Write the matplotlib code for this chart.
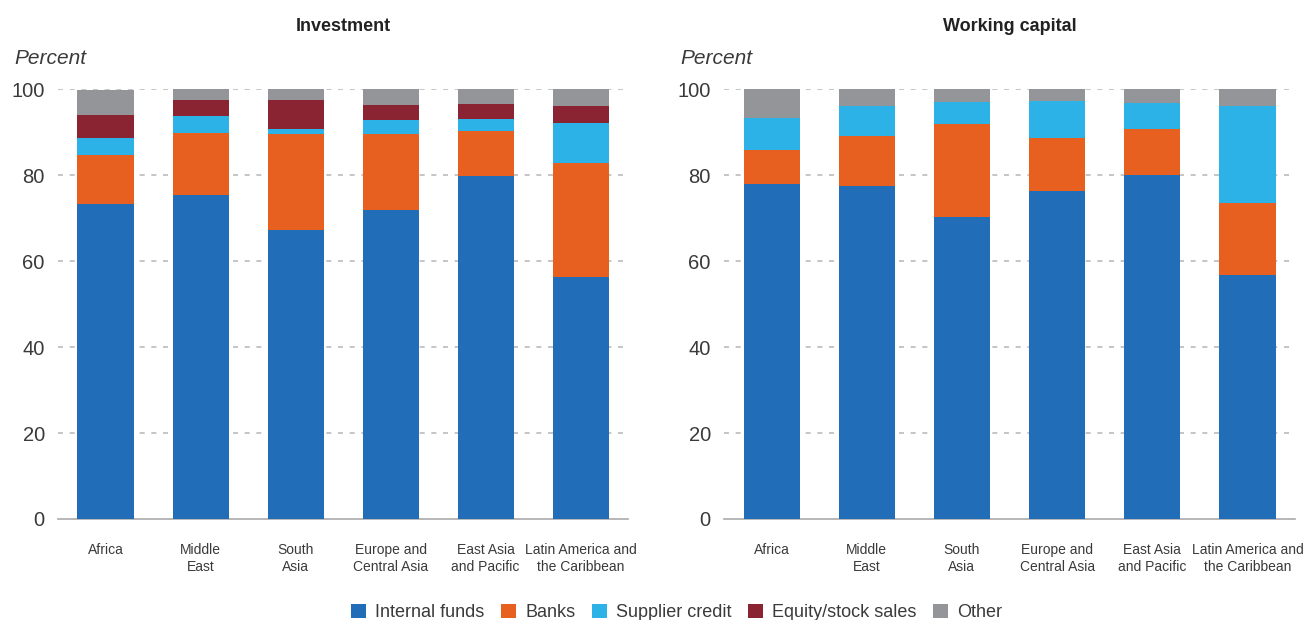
import matplotlib.pyplot as plt
import numpy as np

# Regions (x tick labels)
regions = ["Africa", "Middle\nEast", "South\nAsia", "Europe and\nCentral Asia",
           "East Asia\nand Pacific", "Latin America and\nthe Caribbean"]

# Investment financing shares (percent)
inv_internal = [73.3, 75.3, 67.2, 71.9, 79.8, 56.3]
inv_banks = [11.3, 14.5, 22.3, 17.7, 10.4, 26.5]
inv_supplier = [4.0, 3.9, 1.2, 3.2, 2.8, 9.3]
inv_equity = [5.3, 3.7, 6.7, 3.5, 3.5, 3.9]
inv_other = [6.0, 2.6, 2.6, 3.7, 3.5, 4.0]

# Working capital financing shares (percent)
wc_internal = [77.9, 77.6, 70.2, 76.3, 80.0, 56.7]
wc_banks = [7.9, 11.5, 21.8, 12.4, 10.7, 16.8]
wc_supplier = [7.5, 7.1, 5.0, 8.5, 6.0, 22.6]
wc_other = [6.7, 3.8, 3.0, 2.8, 3.3, 3.9]

series_names = ["Internal funds", "Banks", "Supplier credit", "Equity/stock sales", "Other"]
colors = ["#216db7", "#e8601f", "#2db2e8", "#8a2433", "#939598"]

plt.rcParams["font.family"] = ["Liberation Sans", "DejaVu Sans"]
txt = "#3a3a3a"

fig = plt.figure(figsize=(13.06, 6.2), dpi=100)
ax1 = fig.add_axes([0.0444, 0.163, 0.4366, 0.693])
ax2 = fig.add_axes([0.5544, 0.163, 0.4372, 0.693])

panels = [
    (ax1, "Investment", [inv_internal, inv_banks, inv_supplier, inv_equity, inv_other]),
    (ax2, "Working capital", [wc_internal, wc_banks, wc_supplier, [0] * 6, wc_other]),
]

x = np.arange(len(regions))
for ax, title, data in panels:
    bottom = np.zeros(len(regions))
    for vals, c, name in zip(data, colors, series_names):
        ax.bar(x, vals, bottom=bottom, width=0.59, color=c, label=name, zorder=3)
        bottom += np.array(vals)
    ax.set_xlim(-0.5, 5.5)
    ax.set_ylim(0, 100)
    ax.set_yticks([0, 20, 40, 60, 80, 100])
    for yv in [20, 40, 60, 80, 100]:
        ax.axhline(yv, color="#bbbbbb", lw=1.2, ls=(0, (3, 4)), zorder=1)
    for s in ["top", "right", "left"]:
        ax.spines[s].set_visible(False)
    ax.spines["bottom"].set_color("#aaaaaa")
    ax.spines["bottom"].set_linewidth(1.2)
    ax.set_xticks(x)
    ax.set_xticklabels(regions, fontsize=10, color=txt, linespacing=1.3)
    ax.tick_params(axis="x", length=0, pad=17)
    ax.tick_params(axis="y", length=0, pad=9.5, labelsize=14.5, labelcolor=txt)
    ax.set_title(title, fontsize=13, fontweight="bold", color="#222222", pad=42)
    ax.text(-0.077, 1.072, "Percent", transform=ax.transAxes, fontsize=15,
            style="italic", color=txt, ha="left", va="center")

handles, labels = ax1.get_legend_handles_labels()
fig.legend(handles, labels, loc="center", bbox_to_anchor=(0.518, 0.012), ncol=5,
           frameon=False, fontsize=13, handlelength=0.85, handleheight=0.85,
           handletextpad=0.5, columnspacing=0.9, borderaxespad=0,
           labelcolor=txt)

fig.savefig("out.png", dpi=100)
